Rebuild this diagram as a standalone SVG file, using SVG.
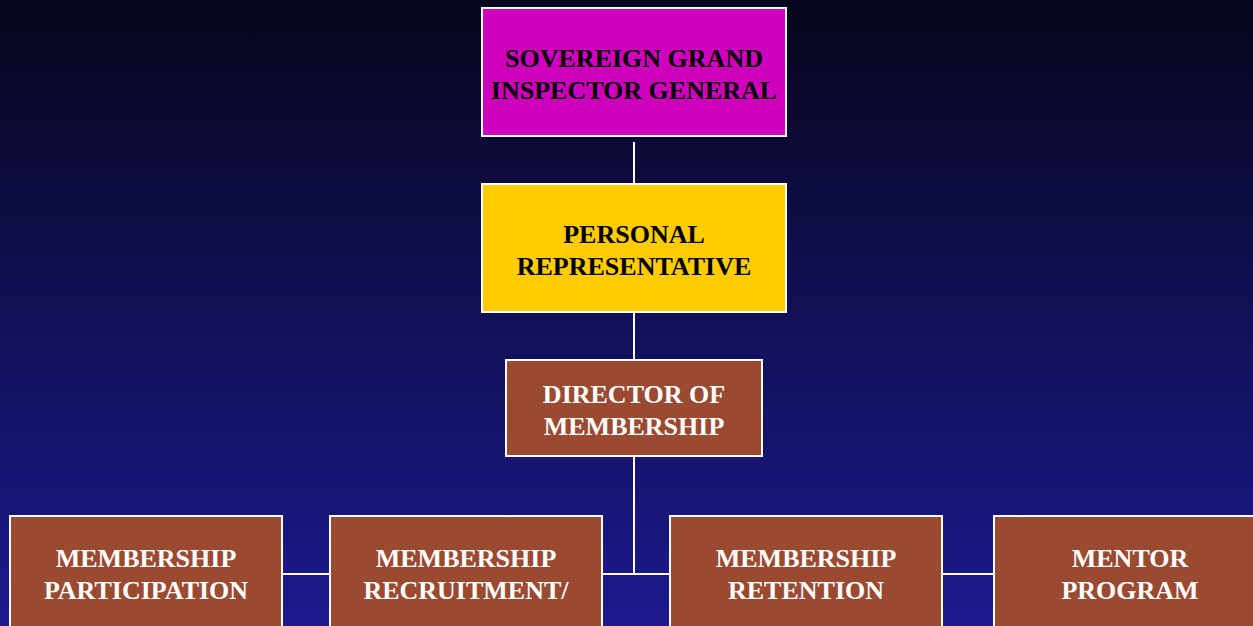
<svg xmlns="http://www.w3.org/2000/svg" width="1253" height="626" viewBox="0 0 1253 626">
<defs>
<linearGradient id="bg" x1="0" y1="0" x2="0" y2="1">
<stop offset="0" stop-color="#06061c"/>
<stop offset="1" stop-color="#1c1a8e"/>
</linearGradient>
</defs>
<style>
.box{stroke:#ffffff;stroke-width:2}
.mag{fill:#cf00bc}
.yel{fill:#ffcc00}
.brn{fill:#9b4a32}
.t{font-family:"Liberation Serif","Times New Roman",serif;font-weight:bold;font-size:26px;text-anchor:middle}
.dk{fill:#000000}
.lt{fill:#ffffff}
.ln{stroke:#ffffff;stroke-width:2;fill:none}
</style>
<rect x="0" y="0" width="1253" height="626" fill="url(#bg)"/>
<g id="connectors">
<line class="ln" x1="634" y1="142" x2="634" y2="184"/>
<line class="ln" x1="634" y1="312" x2="634" y2="360"/>
<line class="ln" x1="634" y1="456" x2="634" y2="574"/>
<line class="ln" x1="282" y1="574" x2="994" y2="574"/>
</g>
<g id="sgig">
<rect class="box mag" x="482" y="8" width="304" height="128"/>
<text class="t dk" x="634" y="67">SOVEREIGN GRAND</text>
<text class="t dk" x="634" y="99">INSPECTOR GENERAL</text>
</g>
<g id="pr">
<rect class="box yel" x="482" y="184" width="304" height="128"/>
<text class="t dk" x="634" y="243">PERSONAL</text>
<text class="t dk" x="634" y="275">REPRESENTATIVE</text>
</g>
<g id="director">
<rect class="box brn" x="506" y="360" width="256" height="96"/>
<text class="t lt" x="634" y="403">DIRECTOR OF</text>
<text class="t lt" x="634" y="435">MEMBERSHIP</text>
</g>
<g id="participation">
<rect class="box brn" x="10" y="516" width="272" height="130"/>
<text class="t lt" x="146" y="567">MEMBERSHIP</text>
<text class="t lt" x="146" y="599">PARTICIPATION</text>
</g>
<g id="recruitment">
<rect class="box brn" x="330" y="516" width="272" height="130"/>
<text class="t lt" x="466" y="567">MEMBERSHIP</text>
<text class="t lt" x="466" y="599">RECRUITMENT/</text>
</g>
<g id="retention">
<rect class="box brn" x="670" y="516" width="272" height="130"/>
<text class="t lt" x="806" y="567">MEMBERSHIP</text>
<text class="t lt" x="806" y="599">RETENTION</text>
</g>
<g id="mentor">
<rect class="box brn" x="994" y="516" width="272" height="130"/>
<text class="t lt" x="1130" y="567">MENTOR</text>
<text class="t lt" x="1130" y="599">PROGRAM</text>
</g>
</svg>
